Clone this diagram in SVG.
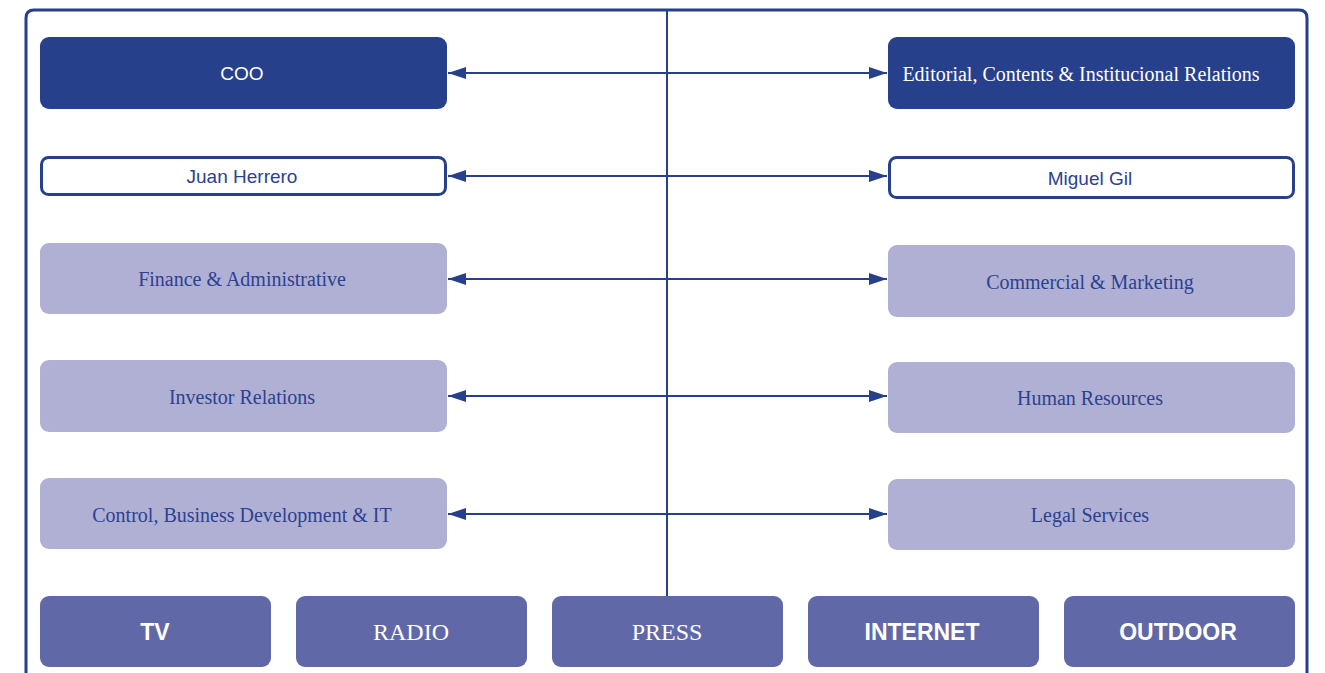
<svg xmlns="http://www.w3.org/2000/svg" width="1325" height="673" viewBox="0 0 1325 673">
<style>
.dark{fill:#27408b;}
.outline{fill:#ffffff;stroke:#27408b;stroke-width:3;}
.light{fill:#afb0d4;}
.media{fill:#6168a8;}
.sansW{font-family:"Liberation Sans",Arial,sans-serif;font-size:19px;fill:#ffffff;text-anchor:middle;}
.sansB{font-family:"Liberation Sans",Arial,sans-serif;font-size:19px;fill:#2d4191;text-anchor:middle;}
.serifW{font-family:"Liberation Serif","Times New Roman",serif;font-size:20px;fill:#ffffff;text-anchor:middle;}
.serifB{font-family:"Liberation Serif","Times New Roman",serif;font-size:20px;fill:#2d4191;text-anchor:middle;}
.mbold{font-family:"Liberation Sans",Arial,sans-serif;font-size:23px;font-weight:bold;fill:#ffffff;text-anchor:middle;}
.mserif{font-family:"Liberation Serif","Times New Roman",serif;font-size:24px;fill:#ffffff;text-anchor:middle;}
.conn{stroke:#27408b;stroke-width:2;fill:none;}
</style>
<defs>
<marker id="ah" viewBox="0 0 18 12" refX="18" refY="6" markerWidth="18" markerHeight="12" markerUnits="userSpaceOnUse" orient="auto-start-reverse">
<path d="M0,0 L18,6 L0,12 z" fill="#27408b"/>
</marker>
</defs>
<rect width="1325" height="673" fill="#ffffff"/>
<path d="M26,690 L26,18 Q26,10 34,10 L1299,10 Q1307,10 1307,18 L1307,690" fill="none" stroke="#27408b" stroke-width="3"/>
<g id="connectors">
<line class="conn" x1="667" y1="10" x2="667" y2="596"/>
<line class="conn" x1="448" y1="73" x2="887" y2="73" marker-start="url(#ah)" marker-end="url(#ah)"/>
<line class="conn" x1="448" y1="176" x2="887" y2="176" marker-start="url(#ah)" marker-end="url(#ah)"/>
<line class="conn" x1="448" y1="279" x2="887" y2="279" marker-start="url(#ah)" marker-end="url(#ah)"/>
<line class="conn" x1="448" y1="396" x2="887" y2="396" marker-start="url(#ah)" marker-end="url(#ah)"/>
<line class="conn" x1="448" y1="514" x2="887" y2="514" marker-start="url(#ah)" marker-end="url(#ah)"/>
</g>
<g id="coo"><rect class="dark" x="40" y="37" width="407" height="72" rx="9"/><text class="sansW" x="242" y="80">COO</text></g>
<g id="editorial"><rect class="dark" x="888" y="37" width="407" height="72" rx="9"/><text class="serifW" x="1081" y="81">Editorial, Contents &amp; Institucional Relations</text></g>
<g id="juan"><rect class="outline" x="41.5" y="157.5" width="404" height="37" rx="7"/><text class="sansB" x="242" y="183">Juan Herrero</text></g>
<g id="miguel"><rect class="outline" x="889.5" y="157.5" width="404" height="40" rx="7"/><text class="sansB" x="1090" y="185">Miguel Gil</text></g>
<g id="finance"><rect class="light" x="40" y="243" width="407" height="71" rx="9"/><text class="serifB" x="242" y="286">Finance &amp; Administrative</text></g>
<g id="commercial"><rect class="light" x="888" y="245" width="407" height="72" rx="9"/><text class="serifB" x="1090" y="289">Commercial &amp; Marketing</text></g>
<g id="investor"><rect class="light" x="40" y="360" width="407" height="72" rx="9"/><text class="serifB" x="242" y="404">Investor Relations</text></g>
<g id="hr"><rect class="light" x="888" y="362" width="407" height="71" rx="9"/><text class="serifB" x="1090" y="405">Human Resources</text></g>
<g id="control"><rect class="light" x="40" y="478" width="407" height="71" rx="9"/><text class="serifB" x="242" y="522">Control, Business Development &amp; IT</text></g>
<g id="legal"><rect class="light" x="888" y="479" width="407" height="71" rx="9"/><text class="serifB" x="1090" y="522">Legal Services</text></g>
<g id="tv"><rect class="media" x="40" y="596" width="231" height="71" rx="9"/><text class="mbold" x="155" y="640">TV</text></g>
<g id="radio"><rect class="media" x="296" y="596" width="231" height="71" rx="9"/><text class="mserif" x="411" y="640">RADIO</text></g>
<g id="press"><rect class="media" x="552" y="596" width="231" height="71" rx="9"/><text class="mserif" x="667" y="640">PRESS</text></g>
<g id="internet"><rect class="media" x="808" y="596" width="231" height="71" rx="9"/><text class="mbold" x="922" y="640">INTERNET</text></g>
<g id="outdoor"><rect class="media" x="1064" y="596" width="231" height="71" rx="9"/><text class="mbold" x="1178" y="640">OUTDOOR</text></g>
</svg>
